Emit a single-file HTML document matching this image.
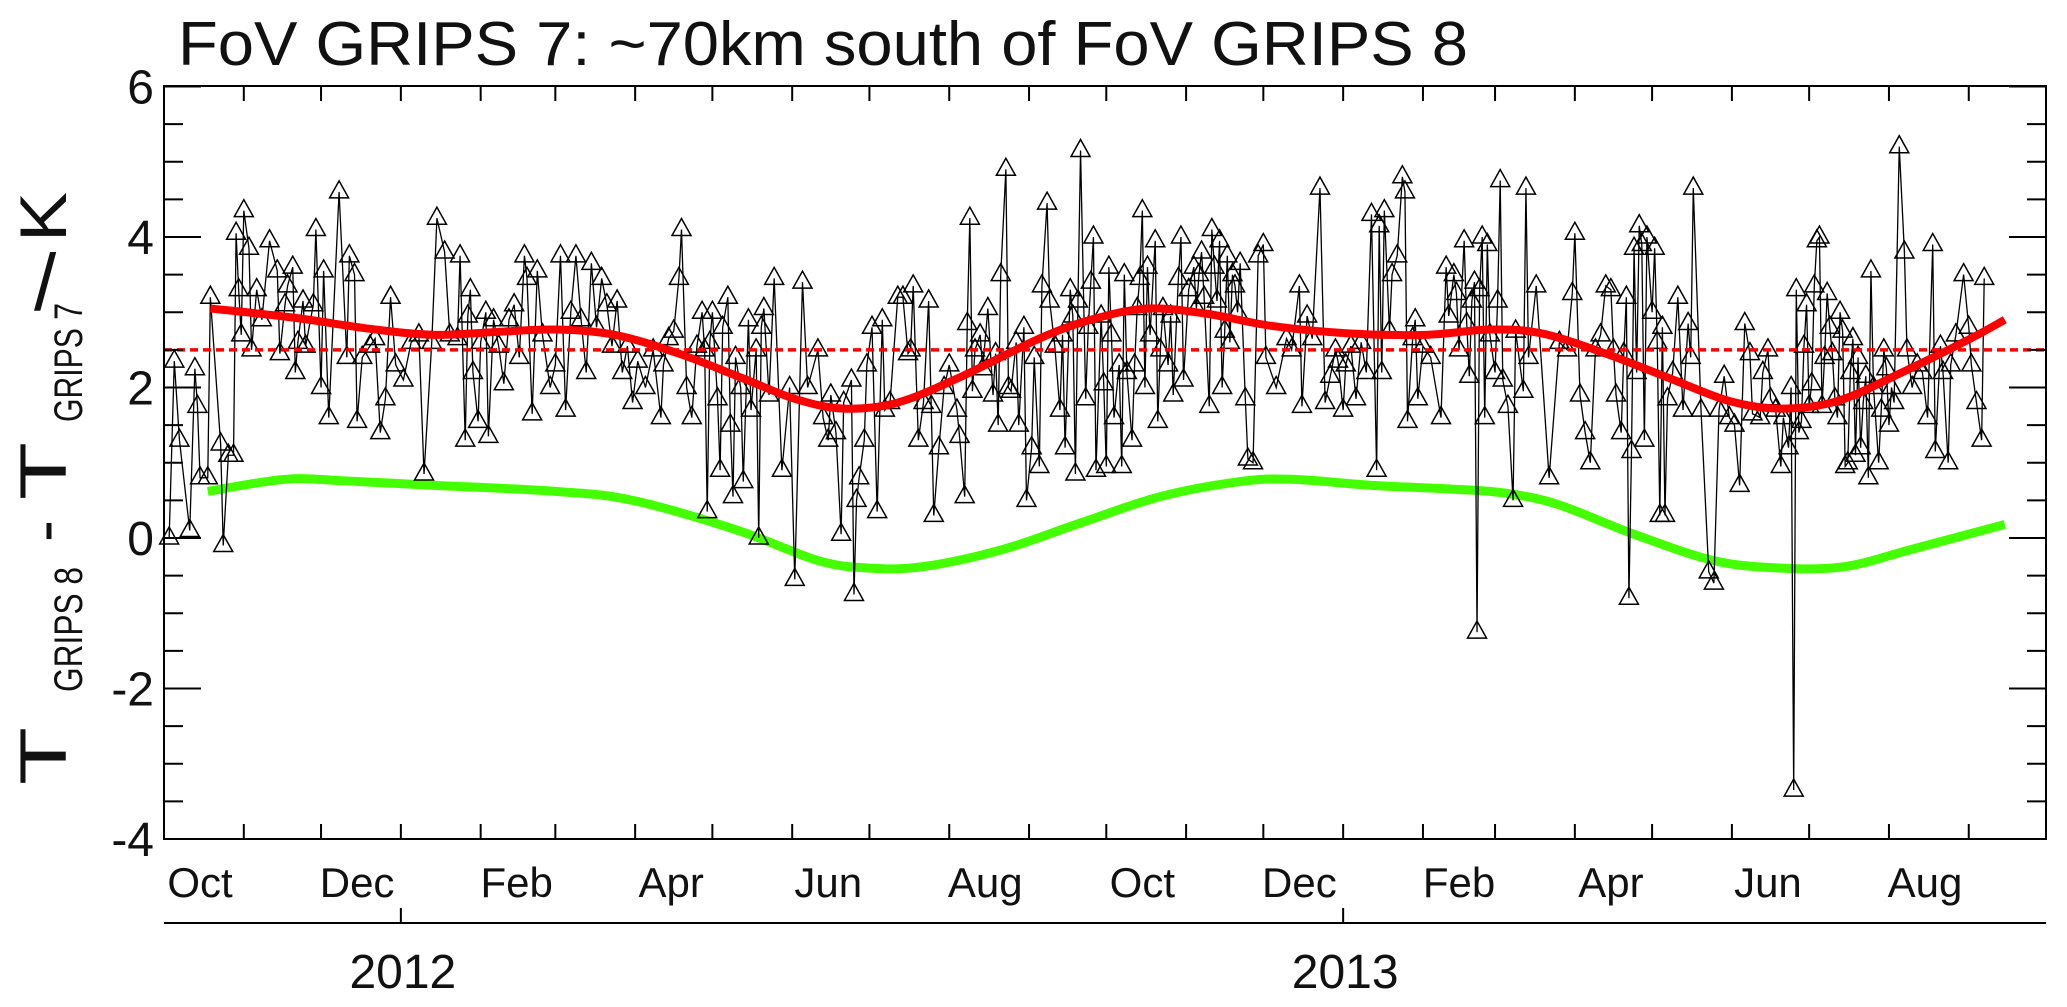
<!DOCTYPE html>
<html><head><meta charset="utf-8"><style>
html,body{margin:0;padding:0;background:#fff;}
svg{display:block;font-family:"Liberation Sans",Arial,sans-serif;}
</style></head><body>
<svg id="chart" width="2067" height="1007" viewBox="0 0 2067 1007" xmlns="http://www.w3.org/2000/svg">
<rect width="2067" height="1007" fill="#fff"/>
<text x="178" y="65" font-size="62" textLength="1290" lengthAdjust="spacingAndGlyphs" fill="#111">FoV GRIPS 7: ~70km south of FoV GRIPS 8</text>
<g fill="#111">
<g transform="translate(66,0) rotate(-90)">
<text x="-785" y="0" font-size="66" textLength="58" lengthAdjust="spacingAndGlyphs">T</text>
<text x="-692" y="16" font-size="40" textLength="125" lengthAdjust="spacingAndGlyphs">GRIPS 8</text>
<text x="-542" y="0" font-size="64" textLength="22" lengthAdjust="spacingAndGlyphs">-</text>
<text x="-500" y="0" font-size="66" textLength="58" lengthAdjust="spacingAndGlyphs">T</text>
<text x="-422" y="16" font-size="40" textLength="119" lengthAdjust="spacingAndGlyphs">GRIPS 7</text>
<text x="-242" y="0" font-size="66" textLength="50" lengthAdjust="spacingAndGlyphs">K</text>
</g>
<text x="34" y="310" font-size="80">/</text>
</g>
<g id="plot"></g>
<g id="axes"></g>
</svg>
<script>
// ---- data (days since 2011-10-01, values in K) ----
const obsDays = [2,4,6,10,12,13,14,17,18,22,23,25,27,28,29,30,31,33,34,36,38,41,44,45,47,48,50,51,52,54,55,58,59,61,62,64,68,71,72,74,75,77,80,82,84,86,88,90,
93,96,99,101,104,106,109,111,114,115,117,118,119,120,122,123,125,126,128,130,132,134,136,138,140,141,143,145,147,150,152,154,156,158,
160,162,164,166,168,170,172,174,176,178,180,182,184,187,190,193,194,196,198,200,201,203,205,207,209,210,211,212,213,215,216,217,219,220,221,222,224,225,227,
228,230,231,232,233,235,237,240,243,245,248,250,254,256,258,259,261,263,264,267,268,269,270,272,273,275,277,279,280,282,285,287,289,290,291,293,295,297,298,299,
301,303,305,308,309,311,312,313,314,315,317,318,320,322,323,324,325,327,328,329,331,332,334,335,337,338,340,341,343,344,346,348,349,350,352,353,354,355,356,358,359,360,
361,362,364,365,366,367,368,369,371,372,373,374,376,377,378,379,380,381,382,383,385,386,387,388,390,391,392,394,395,396,398,400,401,402,403,404,406,407,408,409,410,411,412,413,414,415,416,417,418,420,421,423,425,427,428,
432,436,438,441,442,444,446,449,451,453,455,456,458,459,461,463,465,467,469,471,472,473,474,476,477,479,481,482,483,485,486,487,489,492,496,498,499,501,502,503,505,506,507,508,509,
510,511,512,513,514,515,517,518,519,520,522,524,525,528,529,530,533,538,542,545,547,548,550,552,554,556,558,560,562,563,564,566,567,568,569,570,571,572,573,574,575,576,578,
579,580,581,582,583,584,586,588,590,592,593,594,597,600,602,604,606,608,610,612,614,616,617,620,621,623,624,626,628,629,631,632,
633,634,635,636,637,638,639,640,641,642,643,644,645,646,647,648,649,650,651,652,653,654,655,656,657,658,659,660,661,662,663,664,666,667,668,669,670,671,672,674,676,677,679,681,683,685,687,688,690,691,693,694,696,699,701,702,704,706,707];
const obsVals = [0.0,2.35,1.3,0.1,2.25,1.75,0.8,0.8,3.2,1.25,-0.1,1.1,1.1,4.05,3.3,2.7,4.35,3.85,2.5,3.3,2.9,3.95,3.55,2.45,3.1,3.35,3.6,2.2,2.6,3.15,2.55,3.1,4.1,2.0,3.55,1.6,4.6,2.4,3.75,3.5,1.55,2.4,2.55,2.65,1.4,1.85,3.2,2.3,
2.1,2.6,2.7,0.85,2.6,4.25,3.8,2.7,2.65,3.75,1.3,2.95,3.3,2.2,1.55,2.6,3.0,1.35,2.9,2.55,2.05,2.9,3.1,2.4,3.75,3.45,1.65,3.55,2.7,2.0,2.3,3.75,1.7,3.0,
3.75,2.9,2.2,3.65,2.8,3.45,3.1,2.55,3.15,2.2,2.55,1.8,2.35,2.0,2.5,1.6,2.3,2.65,2.75,3.45,4.1,2.0,1.6,2.55,3.0,2.5,0.35,2.6,3.0,1.85,0.9,2.8,3.2,1.5,0.55,2.4,2.0,0.75,2.9,
1.7,2.5,0.0,2.8,3.05,1.9,3.45,0.9,2.0,-0.55,3.4,2.0,2.5,1.6,1.3,1.9,1.4,0.05,1.8,2.1,-0.75,0.5,0.8,1.3,2.3,2.8,0.35,2.9,1.7,1.8,3.2,3.2,2.45,2.5,3.35,1.3,1.8,3.15,1.75,0.3,
1.2,2.0,2.3,1.7,1.35,0.55,2.85,4.25,1.95,2.5,2.7,2.25,3.05,1.9,2.45,1.5,3.5,4.9,2.0,1.95,2.6,1.5,2.8,0.5,1.2,2.4,0.95,3.35,4.45,3.15,2.55,1.7,2.7,1.2,3.3,2.95,0.85,3.15,5.15,1.85,2.8,3.4,
4.0,0.9,2.95,2.05,0.95,3.6,2.7,1.6,2.3,0.95,3.5,2.2,1.3,2.3,3.05,3.45,4.35,2.0,3.6,2.7,3.95,1.55,2.5,3.05,2.3,2.95,1.9,3.45,4.0,2.1,3.3,3.6,3.05,3.5,3.8,3.2,1.75,4.1,3.6,3.15,3.95,2.0,2.75,3.75,2.6,3.5,3.35,3.0,3.65,1.85,1.05,1.0,3.75,3.9,2.4,
2.0,2.65,2.5,3.35,1.75,2.95,2.65,4.65,1.8,2.15,2.5,2.35,1.7,2.3,2.55,1.85,2.6,2.2,4.3,0.9,4.15,2.2,4.35,2.75,3.5,3.75,4.8,4.6,1.55,2.65,2.9,1.85,2.55,2.4,1.6,3.6,2.95,3.5,3.25,2.5,3.95,2.85,2.15,3.15,3.4,
-1.25,3.3,4.0,1.6,3.9,2.7,2.2,3.15,4.75,2.1,1.75,0.5,2.75,1.95,4.65,2.4,3.35,0.8,2.6,2.5,3.25,4.05,1.9,1.4,1.0,2.5,2.7,3.35,3.3,2.5,1.9,1.4,2.45,3.2,-0.8,1.15,3.85,2.2,4.15,3.9,1.3,4.0,3.0,
3.85,2.6,0.3,2.8,0.3,1.85,2.2,3.2,1.7,2.85,2.4,4.65,1.7,-0.45,-0.6,1.7,2.15,1.6,1.5,0.7,2.85,2.45,1.65,1.6,2.2,2.5,1.85,1.7,0.95,1.6,1.2,2.0,
-3.35,3.3,1.4,1.55,2.55,3.1,1.75,2.05,3.35,3.95,4.0,1.75,2.4,3.25,2.8,2.45,1.85,1.6,3.0,2.75,0.95,1.0,2.2,2.65,1.1,2.4,1.2,1.8,2.15,0.8,3.55,2.0,1.0,1.7,2.5,2.25,1.5,2.0,1.8,5.2,3.8,2.5,2.0,2.3,2.2,1.6,3.9,1.15,2.55,2.2,1.0,2.3,2.7,3.5,2.8,2.3,1.8,1.3,3.45];
const fitDays = [18,50,80,105,130,152,175,200,225,245,264,285,310,340,360,382,405,430,460,490,515,535,560,585,608,628,650,675,700,715];
const fitVals = [3.05,2.93,2.78,2.7,2.74,2.77,2.7,2.45,2.12,1.85,1.72,1.8,2.15,2.65,2.9,3.05,2.98,2.82,2.72,2.7,2.77,2.72,2.45,2.12,1.82,1.72,1.82,2.2,2.62,2.9];
const modelDays = [17,47,70,105,152,182,223,254,274,295,326,356,387,418,438,469,500,520,541,571,602,628,653,679,715];
const modelVals = [0.62,0.78,0.76,0.7,0.62,0.5,0.1,-0.3,-0.4,-0.38,-0.15,0.2,0.55,0.75,0.78,0.7,0.65,0.6,0.45,0.05,-0.3,-0.4,-0.38,-0.15,0.18];
const meanLevel = [2.5];
const yTicks = [-4,-2,0,2,4,6];
const monthLabels = ["Oct","Dec","Feb","Apr","Jun","Aug","Oct","Dec","Feb","Apr","Jun","Aug"];
const yearLabels = ["2012","2013"];

// ---- scales ----
const X0=164, X1=2046, Y0=86, Y1=839, DAYS=731;
const xS = d => X0 + d*(X1-X0)/DAYS;
const yS = v => 538 - 75.25*v;
const NS="http://www.w3.org/2000/svg";
const plot=document.getElementById('plot'), axes=document.getElementById('axes');
function mk(tag, parent, attrs){const e=document.createElementNS(NS,tag);for(const k in attrs)e.setAttribute(k,attrs[k]);parent.appendChild(e);return e;}
function smooth(xs,ys){
  const p=xs.map((d,i)=>[xS(d),yS(ys[i])]);
  let s=`M${p[0][0]},${p[0][1]}`;
  for(let i=0;i<p.length-1;i++){
    const a=p[Math.max(0,i-1)],b=p[i],c=p[i+1],d=p[Math.min(p.length-1,i+2)];
    s+=` C${b[0]+(c[0]-a[0])/6},${b[1]+(c[1]-a[1])/6} ${c[0]-(d[0]-b[0])/6},${c[1]-(d[1]-b[1])/6} ${c[0]},${c[1]}`;
  }
  return s;
}
// model (green)
const g=mk('path',plot,{d:smooth(modelDays,modelVals),fill:'none',stroke:'#44ff00','stroke-width':9,'stroke-linejoin':'round'});


// observation line
const pl=mk('polyline',plot,{points:obsDays.map((d,i)=>xS(d)+','+yS(obsVals[i])).join(' '),fill:'none',stroke:'#000','stroke-width':1.3});


// triangles
obsDays.forEach((d,i)=>{
  const cx=xS(d), cy=yS(obsVals[i]);
  const t=mk('polygon',plot,{points:`${cx-9.5},${cy+6} ${cx+9.5},${cy+6} ${cx},${cy-11}`,fill:'none',stroke:'#000','stroke-width':1.5});
  
  
});
// mean level dashed
const ml=mk('line',plot,{x1:X0,x2:X1,y1:yS(meanLevel[0]),y2:yS(meanLevel[0]),stroke:'#ff0000','stroke-width':3.5,'stroke-dasharray':'8,5'});


// fit (red)
const r=mk('path',plot,{d:smooth(fitDays,fitVals),fill:'none',stroke:'#ff0000','stroke-width':8,'stroke-linecap':'butt'});



// ---- axes ----
const frame=mk('rect',axes,{x:X0,y:Y0,width:X1-X0,height:Y1-Y0,fill:'none',stroke:'#000','stroke-width':2});


for(let v=-4;v<=6.001;v+=0.5){
  const y=yS(v), major=Math.abs(v%2)<1e-6, L=major?37:19;
  const t1=mk('line',axes,{x1:X0,x2:X0+L,y1:y,y2:y,stroke:'#000','stroke-width':2});
  
  
  const t2=mk('line',axes,{x1:X1,x2:X1-L,y1:y,y2:y,stroke:'#000','stroke-width':2});
  
  
}
yTicks.forEach(v=>{
  const t=mk('text',axes,{x:154,y:yS(v)+17,'text-anchor':'end','font-size':48,fill:'#111'});
  t.textContent=String(v);
  
  
});
const base=new Date(Date.UTC(2011,9,1));
const dayOf=(y,m,d)=>(Date.UTC(y,m,d)-base)/86400000;
for(let k=1;k<24;k++){
  const y=2011+Math.floor((9+k)/12), m=(9+k)%12, x=xS(dayOf(y,m,1));
  const a=mk('line',axes,{x1:x,x2:x,y1:Y1,y2:Y1-15,stroke:'#000','stroke-width':2});
  
  
  const b=mk('line',axes,{x1:x,x2:x,y1:Y0,y2:Y0+15,stroke:'#000','stroke-width':2});
  
  
}
monthLabels.forEach((lab,i)=>{
  const k=i*2, y=2011+Math.floor((9+k)/12), m=(9+k)%12;
  const t=mk('text',axes,{x:xS(dayOf(y,m,15)),y:897,'text-anchor':'middle','font-size':42,fill:'#111'});
  t.textContent=lab;
  
  
});
const ya=mk('line',axes,{x1:X0,x2:X1,y1:923,y2:923,stroke:'#000','stroke-width':2});


yearLabels.forEach(lab=>{
  const x=xS(dayOf(+lab,0,1));
  const tk=mk('line',axes,{x1:x,x2:x,y1:923,y2:908,stroke:'#000','stroke-width':2});
  
  
  const t=mk('text',axes,{x:x+2,y:988,'text-anchor':'middle','font-size':48,fill:'#111'});
  t.textContent=lab;
  
  
});
</script>
</body></html>
